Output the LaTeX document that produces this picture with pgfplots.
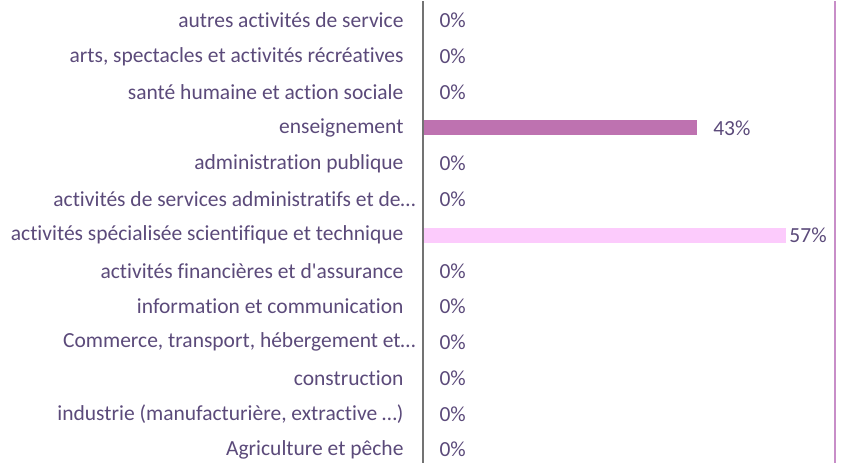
\documentclass[border=0pt]{standalone}
\usepackage{fontspec}
\setmainfont[Ligatures={NoCommon}]{Carlito}
\usepackage{pgfplots}
\pgfplotsset{compat=1.18}
\definecolor{txt}{HTML}{5B4A7A}
\definecolor{barA}{HTML}{BE72B0}
\definecolor{barB}{HTML}{FCCBFC}
\definecolor{frame}{HTML}{C88EC8}

\begin{document}
\begin{tikzpicture}
\begin{axis}[
  scale only axis,
  width=412pt,
  height=462pt,
  xmin=0, xmax=64.7,
  ymin=-0.364, ymax=12.56,
  axis line style={draw=none},
  xtick=\empty,
  ytick={0,...,12},
  yticklabels={
    Agriculture et pêche,
    {industrie (manufacturière, extractive …)},
    construction,
    {Commerce, transport, hébergement et…\hspace*{-12pt}},
    information et communication,
    activités financières et d\textquotesingle assurance,
    activités spécialisée scientifique et technique,
    activités de services administratifs et de…\hspace*{-12pt},
    administration publique,
    enseignement,
    santé humaine et action sociale,
    {arts, spectacles et activités récréatives},
    autres activités de service},
  major tick length=0pt,
  yticklabel style={font=\fontsize{21.5}{24}\selectfont, text=txt, xshift=-16pt},
  /pgf/number format/assume math mode=true,
  xbar,
  bar width=15pt,
  bar shift=0pt,
  clip=false,
  point meta=x,
  nodes near coords={\pgfmathprintnumber{\pgfplotspointmeta}\%},
  every node near coord/.append style={font=\fontsize{21.5}{24}\selectfont, text=txt, anchor=west, xshift=13pt},
]
\addplot[fill=barA, draw=none] coordinates {(43,9)};
\addplot[fill=barB, draw=none, every node near coord/.append style={xshift=-13pt}] coordinates {(57,6)};
\addplot[draw=none, fill=none] coordinates {
  (0,0) (0,1) (0,2) (0,3) (0,4) (0,5) (0,7) (0,8) (0,10) (0,11) (0,12)
};
\draw[gray!90!black, line width=1.2pt] (rel axis cs:0,0) -- (rel axis cs:0,1);
\draw[frame, line width=1.2pt] (rel axis cs:1,0) -- (rel axis cs:1,1);
\path (rel axis cs:-1.0267,0) (rel axis cs:1.0243,1);
\end{axis}
\end{tikzpicture}
\end{document}
